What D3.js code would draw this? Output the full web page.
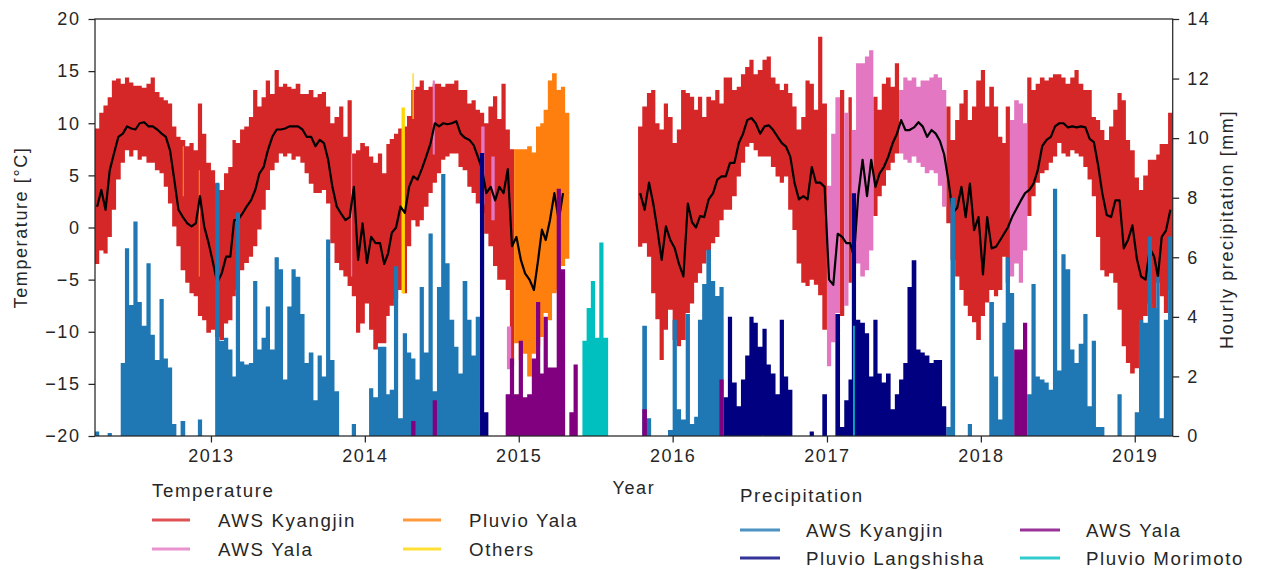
<!DOCTYPE html>
<html><head><meta charset="utf-8">
<script src="https://cdn.jsdelivr.net/npm/d3@7"></script>
<style>
body{margin:0;background:#fff;}
svg text{font-family:"Liberation Sans",Arial,sans-serif;fill:#262626;font-size:18px;letter-spacing:1.6px;}
svg text.leg{font-size:18.7px;}
</style></head><body>
<svg id="chart" width="1264" height="570"></svg>
<script>
// ---------- DATA (dekads = 1st, 11th, 21st of each month, April 2012 .. March 2019) ----------
const seasonLabels = ["2012-13","2013-14","2014-15","2015-16","2016-17","2017-18","2018-19"];

// temperature band maximum per dekad [°C]
const tempMax = [
  9.5,11.0,11.7, 12.5,14.1,14.3, 13.8,14.4,13.9, 13.6,13.6,13.4, 13.8,14.4,13.0, 12.5,12.2,11.9, 9.7,8.7,8.4, 7.8,8.1,7.4, 11.9,9.0,6.2, 5.5,4.2,3.6, 5.2,5.8,8.4, 8.1,9.4,9.7,
  10.6,13.2,11.6, 12.5,14.1,12.8, 15.1,13.5,13.8, 13.5,13.3,13.8, 12.8,12.8,13.2, 12.5,12.8,13.0, 11.6,10.0,10.6, 11.6,8.7,12.2, 7.1,7.4,8.1, 7.8,6.8,6.2, 7.1,5.2,8.0, 8.5,9.0,9.5,
  9.7,10.7,13.2, 13.5,14.1,13.2, 13.5,13.8,13.8, 13.5,13.8,13.8, 14.1,13.2,13.2, 11.9,12.2,11.3, 11.0,10.0,11.6, 12.6,10.4,13.8, 9.4,7.5,7.5, 7.5,7.5,7.8, 7.2,9.7,10.0, 11.3,14.1,14.8,
  13.2,13.5,11.0, null,null,null, null,null,null, null,null,null, null,null,null, null,null,null, null,9.7,11.6, 12.9,13.2,10.0, 9.4,11.9,10.6, 8.1,9.4,13.2, 12.9,12.55,11.3, 12.55,10.6,12.55,
  12.2,13.2,11.9, 14.4,14.4,13.2, 13.5,14.7,15.4, 16.1,14.7,15.1, 16.1,16.4,14.4, 13.8,13.2,13.8, 12.9,11.6,9.4, 10.6,14.1,13.8, 11.3,18.3,11.9, 4.0,9.0,12.5, 13.2,11.0,12.5, 9.35,15.75,15.75,
  16.4,17.0,12.55, 11.3,13.8,14.4, 13.5,15.75,13.2, 14.4,14.1,14.4, 13.5,14.1,14.1, 14.4,14.7,14.4, 13.2,11.6,8.4, 10.3,11.9,13.2, 10.3,11.6,14.1, 15.1,11.6,13.5, 11.6,8.7,8.1, 11.6,10.3,12.2,
  11.9,10.0,14.4, 13.2,13.8,14.4, 14.1,14.4,14.7, 14.7,14.4,13.8, 14.4,15.1,13.8, 13.2,13.2,10.6, 10.3,9.35,8.4, 9.7,11.3,12.9, 12.2,8.4,7.4, 4.8,3.6,5.0, 6.5,6.5,7.0, 8.0,8.0,11.0
];
// temperature band minimum per dekad [°C]
const tempMin = [
  -3.5,-2.2,-2.5, -0.9,1.7,4.6, 6.2,7.4,6.8, 7.4,6.5,6.8, 6.2,6.2,5.5, 5.2,3.9,2.3, 0.1,-1.8,-4.1, -5.3,-6.3,-6.6, -8.5,-8.9,-10.1, -9.8,-10.5,-10.8, -9.2,-8.9,-6.6, -6.0,-4.1,-3.4,
  -2.8,-1.8,-0.2, 1.7,3.6,5.5, 6.2,7.1,6.8, 7.1,6.5,6.8, 6.2,5.2,4.2, 3.3,3.3,3.6, 2.3,-1.5,-3.4, -4.1,-4.7,-5.6, -6.6,-10.1,-9.2, -7.3,-9.8,-11.7, -11.1,-11.1,-8.5, -7.5,-6.8,-6.0,
  -6.3,-1.8,0.7, 0.1,0.7,2.0, 3.3,4.3,5.2, 6.5,6.8,7.1, 7.1,5.8,5.5, 3.9,3.3,2.3, 1.4,-0.6,-1.8, -3.7,-5.0,-5.0, -6.0,-13.3,-11.1, -12.7,-12.1,-14.3, -12.1,-11.4,-10.5, -8.2,-8.9,-6.3,
  -6.0,-3.7,-3.0, null,null,null, null,null,null, null,null,null, null,null,null, null,null,null, null,-1.85,-1.5, -2.8,-6.3,-8.8, -12.7,-9.8,-7.9, -10.8,-11.4,-10.8, -8.2,-7.3,-5.3, -4.4,-3.45,-2.2,
  -1.5,-0.9,0.7, 1.7,1.7,3.0, 4.9,6.2,7.75, 8.1,7.4,6.8, 6.8,6.8,5.8, 4.9,4.3,4.9, 1.7,-0.25,-3.45, -5.3,-5.6,-5.0, -5.5,-6.5,-9.8, -13.3,-11.0,-8.2, -8.5,-7.5,-5.3, -4.1,-3.45,-4.7,
  -4.1,-2.2,1.1, 3.0,4.0,5.5, 6.2,7.1,7.1, 6.5,6.2,6.8, 6.2,5.8,5.2, 5.5,5.2,4.0, 2.0,0.4,-3.1, -4.7,-6.0,-7.5, -8.5,-9.1,-10.8, -8.5,-7.2,-6.0, -6.6,-6.0,-2.8, -5.3,-4.7,-3.45,
  -5.3,-2.2,1.1, 3.0,4.3,5.2, 5.5,6.2,6.8, 8.1,7.1,6.8, 7.4,7.1,6.8, 5.8,4.6,3.0, -0.9,-4.1,-4.7, -4.4,-5.3,-7.9, -11.4,-13.0,-14.0, -13.5,-10.5,-8.5, -7.3,-7.9,-5.3, -6.6,-8.2,-6.0
];
// smoothed mean temperature per dekad [°C]
const tempMean = [
  2.0,3.6,1.7, 5.5,7.1,8.7, 9.0,9.7,9.5, 9.4,10.0,10.1, 9.7,9.7,9.4, 9.0,8.7,7.4, 4.6,1.7,1.0, 0.4,0.1,0.4, 3.0,0.1,-1.5, -3.4,-5.3,-4.4, -2.8,-2.8,0.7, 0.7,1.3,2.0,
  2.6,3.6,5.2, 5.8,7.4,8.7, 9.4,9.4,9.5, 9.7,9.7,9.7, 9.4,8.7,8.7, 7.8,8.4,8.1, 6.5,3.9,2.0, 1.3,0.7,1.0, 3.9,-3.1,0.4, -3.4,-0.9,-1.5, -1.5,-3.5,-2.5, -0.5,0.0,2.0,
  1.4,3.9,4.9, 4.6,5.6,6.8, 8.1,10.0,9.7, 10.0,9.9,10.0, 10.2,9.0,8.6, 8.4,7.9,6.8, 5.6,3.3,3.9, 2.6,3.9,3.3, 5.6,-1.8,-0.9, -3.1,-4.4,-5.0, -6.0,-3.1,-0.2, -1.2,0.7,3.3,
  0.7,3.3,null, null,null,null, null,null,null, null,null,null, null,null,null, null,null,null, null,3.3,1.7, 4.3,2.3,-0.25, -3.1,0.1,-1.2, -2.0,-3.5,-4.7, 2.3,0.5,0.0, 1.1,1.0,2.7,
  3.3,4.6,4.9, 4.9,6.2,6.2, 8.1,9.0,10.3, 10.5,10.0,9.0, 9.7,9.8,9.35, 8.7,8.1,7.75, 6.8,4.3,2.7, 3.0,2.7,5.8, 4.3,4.3,3.9, -5.0,-5.5,-0.6, -0.9,-1.5,-1.5, -2.8,3.0,6.5,
  3.0,6.5,3.9, 5.2,5.8,6.8, 8.1,9.0,10.3, 9.35,9.35,9.6, 10.1,9.7,8.7, 9.35,9.0,8.3, 7.0,4.5,1.4, 1.9,3.9,1.0, 4.2,-0.25,1.0, -4.5,1.0,-2.0, -1.85,-1.2,-0.6, 0.0,1.0,1.8,
  2.6,3.3,3.6, 4.2,5.5,7.8, 8.4,8.7,9.7, 10.0,10.0,9.6, 9.7,9.6,9.7, 9.6,8.5,8.2, 6.0,3.3,1.2, 1.0,2.6,2.6, -2.0,-1.2,0.2, -3.0,-4.7,-5.0, -2.0,-2.8,-4.7, -0.9,-0.3,1.7
];
// station of the temperature record per dekad: K AWS Kyangjin, Y AWS Yala, P Pluvio Yala, O Others, - none
const tempSource = [
  "KKK KKK KKK KKK KKK KKK KKK KKK KKK KKK KKK KKK",
  "KKK KKK KKK KKK KKK KKK KKK KKK KKK KKK KKK KKK",
  "KKK KKK KKK KKK KKK KKK KKK KKK KKP PPP PPP PPP",
  "PPP --- --- --- --- --- -KK KKK KKK KKK KKK KKK",
  "KKK KKK KKK KKK KKK KKK KKK KKK KKK YYY KYK YYY",
  "YYK KKK KKY YYY YYY YYY YKK KKK KKK KKK KKK KYY",
  "YYK KKK KKK KKK KKK KKK KKK KKK KKK KKK KKK KKK"
];
// short records of other stations drawn over the band: [from, to, min, max, station]
const tempExtra = [
  ["2012-10-26","2012-10-29", 3.0, 7.8, "P"],
  ["2012-12-03","2012-12-06", -4.7, 5.5, "P"],
  ["2013-11-29","2013-12-02", -4.7, 7.1, "Y"],
  ["2014-03-29","2014-04-06", -6.3, 11.5, "O"],
  ["2014-04-24","2014-04-27", 10.4, 14.8, "O"],
  ["2014-06-11","2014-06-16", 7.0, 14.1, "Y"],
  ["2014-10-04","2014-10-12", 2.2, 9.7, "Y"],
  ["2014-10-28","2014-11-05", 0.7, 6.8, "Y"],
  ["2014-12-04","2014-12-14", -13.6, -9.5, "Y"]
];

// maximum hourly precipitation per dekad [mm]
const precipMax = [
  0.15,0,0, 0.1,0,0, 2.45,6.3,4.4, 7.2,4.5,3.7, 5.8,3.4,2.55, 4.6,2.6,2.3, 0.4,0,0.5, 0,0,0, 0.55,0,0, 0,8.5,3.2, 3.3,2.9,2.0, 7.5,2.5,2.4,
  2.45,5.2,2.9, 3.3,4.35,2.9, 6.0,5.6,1.9, 4.35,5.6,5.35, 4.1,2.45,2.8, 1.2,2.7,2.0, 6.6,2.55,1.5, 0,0,0, 0.4,0,0, 0,1.6,1.3, 3.0,3.0,1.4, 1.55,5.7,0.6,
  3.45,2.8,2.6, 1.9,5.0,2.8, 6.8,1.5,5.0, 8.8,5.8,3.9, 3.0,2.1,5.2, 3.9,2.7,4.0, 9.5,0.8,0, 0,0,0, 1.4,2.6,1.4, 3.2,1.3,1.4, 2.6,4.5,2.1, 4.0,2.3,2.3,
  8.3,5.6,0, 0.8,2.4,0, 3.2,4.3,5.2, 3.3,6.5,3.3, 0,0,0, 0,0,0, 0,0,3.7, 0.6,0,0, 0,0,0.2, 3.9,0.9,0.55, 4.1,0.4,0.65, 3.9,5.1,6.25,
  5.2,4.7,5.0, 1.3,4.0,1.8, 1.0,1.9,2.7, 4.0,3.8,3.0, 3.6,2.4,2.1, 1.4,3.9,2.0, 1.55,0,0, 0,0,0.15, 0,0,1.4, 0,0,4.1, 0.3,1.2,1.9, 8.15,3.9,3.8,
  3.45,2.0,3.9, 2.1,1.8,2.1, 0.9,1.4,1.9, 2.45,5.0,5.9, 2.9,2.8,2.7, 2.45,2.55,2.55, 1.0,0.3,8.0, 0,0,0, 0.4,0,0, 0,0,4.5, 2.0,0.55,3.8, 6.0,4.8,2.9,
  2.9,3.8,1.4, 5.1,2.0,1.9, 1.8,1.55,8.3, 2.2,6.1,5.6, 2.9,2.45,3.1, 4.1,1.0,3.2, 0.3,0.3,0, 0,0,1.4, 0,0,0, 0.8,3.9,3.8, 6.7,4.3,5.35, 0.6,3.9,6.7
];
// station of the precipitation record: K AWS Kyangjin, L Pluvio Langshisha, Y AWS Yala, M Pluvio Morimoto
const precipSource = [
  "KKK KKK KKK KKK KKK KKK KKK KKK KKK KKK KKK KKK",
  "KKK KKK KKK KKK KKK KKK KKK KKK KKK KKK KKK KKK",
  "KKK KKK KKK KKK KKK KKK LL- --- YYY YYY YYY YYY",
  "YY- YY- MMM MMM --- --- --K KKK KKK KKK KKK KKK",
  "KKK LLL LLL LLL LLL LLL LLL LLL LLL LLL LLL LLL",
  "LLL LLL LLL LLL LLL LLL LKK KKK KKK KKK KKK KKY",
  "YYK KKK KKK KKK KKK KKK KKK KKK KKK KKK KKK KKK"
];
// second station drawn in front: [from, to, value, station]
const precipExtra = [
  ["2014-04-21","2014-05-01", 0.5, "Y"],
  ["2014-06-11","2014-06-21", 1.2, "Y"],
  ["2015-10-21","2015-11-01", 0.9, "Y"],
  ["2016-04-21","2016-05-01", 1.9, "Y"],
  ["2017-03-04","2017-03-08", 3.7, "M"]
];

const yearTicks = [2013, 2014, 2015, 2016, 2017, 2018, 2019];
const tempTicks = [-20, -15, -10, -5, 0, 5, 10, 15, 20];
const precipTicks = [0, 2, 4, 6, 8, 10, 12, 14];

const tempLegend = [["AWS Kyangjin","K"],["AWS Yala","Y"],["Pluvio Yala","P"],["Others","O"]];
const precipLegend = [["AWS Kyangjin","K"],["Pluvio Langshisha","L"],["AWS Yala","Y"],["Pluvio Morimoto","M"]];

// ---------- STYLE ----------
const tempColor = {K:"#d62728", Y:"#e377c2", P:"#ff7f0e", O:"#ffd700"};
const precipColor = {K:"#1f77b4", L:"#000080", Y:"#800080", M:"#00bfbf"};
const ink = "#262626";
const L = 95, R = 1172.7, T = 19, B = 436;

// ---------- CHART ----------
const svg = d3.select("#chart");
const parse = d3.timeParse("%Y-%m-%d");
const x = d3.scaleTime().domain([new Date(2012,3,1), new Date(2019,3,1)]).range([L, R]);
const yT = d3.scaleLinear().domain([-20, 20]).range([B, T]);
const yP = d3.scaleLinear().domain([0, 14]).range([B, T]);

const dekStart = i => new Date(2012, 3 + Math.floor(i/3), [1,11,21][i%3]);
const tSrc = tempSource.join("").replace(/ /g, "").split("");
const pSrc = precipSource.join("").replace(/ /g, "").split("");

const dekads = tempMax.map((v, i) => ({
  i, start: dekStart(i), end: dekStart(i+1),
  max: v, min: tempMin[i], mean: tempMean[i], ts: tSrc[i],
  p: precipMax[i], ps: pSrc[i]
}));

svg.append("defs").append("clipPath").attr("id","plot")
  .append("rect").attr("x", L).attr("y", T).attr("width", R-L).attr("height", B-T);

const g = svg.append("g").attr("clip-path","url(#plot)");

// one path per colour (no seams between neighbouring blocks)
function blocks(items, x0, x1, y0, y1){
  return items.map(d => {
    const a = x(x0(d)), b = x(x1(d)), t = y0(d), u = y1(d);
    return `M${a},${t}H${b}V${u}H${a}Z`;
  }).join("");
}
function drawBlocks(layer, items, keyOf, colors, x0, x1, y0, y1){
  const groups = d3.group(items, keyOf);
  Object.keys(colors).forEach(k => {
    const list = groups.get(k);
    if (!list) return;
    layer.append("path").attr("fill", colors[k]).attr("d", blocks(list, x0, x1, y0, y1));
  });
}

// temperature band
const bandLayer = g.append("g");
drawBlocks(bandLayer, dekads.filter(d => d.max != null && d.ts !== "-"), d => d.ts, tempColor,
  d => d.start, d => d.end, d => yT(d.max), d => yT(d.min));
drawBlocks(bandLayer, tempExtra, d => d[4], tempColor,
  d => parse(d[0]), d => parse(d[1]), d => yT(d[3]), d => yT(d[2]));

// mean temperature line
const mid = d => new Date((d.start.getTime() + d.end.getTime())/2);
g.append("path")
  .datum(dekads)
  .attr("fill","none").attr("stroke","#000").attr("stroke-width",2.2)
  .attr("stroke-linejoin","round")
  .attr("d", d3.line().defined(d => d.mean != null).x(d => x(mid(d))).y(d => yT(d.mean)));

// precipitation bars
const barLayer = g.append("g");
drawBlocks(barLayer, dekads.filter(d => d.p > 0 && d.ps !== "-"), d => d.ps, precipColor,
  d => d.start, d => d.end, d => yP(d.p), d => yP(0));
drawBlocks(barLayer, precipExtra, d => d[3], precipColor,
  d => parse(d[0]), d => parse(d[1]), d => yP(d[2]), d => yP(0));

// frame
svg.append("rect").attr("x", L).attr("y", T).attr("width", R-L).attr("height", B-T)
  .attr("fill","none").attr("stroke", ink).attr("stroke-width", 1.25);

// axes
function styleAxis(sel){
  sel.select(".domain").remove();
  sel.selectAll(".tick line").attr("stroke", ink).attr("stroke-width", 1.25);
  sel.selectAll(".tick text").attr("fill", ink).style("font-size","18px");
}
svg.append("g").attr("transform",`translate(${L},0)`)
  .call(d3.axisLeft(yT).tickValues(tempTicks).tickSize(6.5).tickPadding(8).tickFormat(d3.format("")))
  .call(styleAxis);
svg.append("g").attr("transform",`translate(${R},0)`)
  .call(d3.axisRight(yP).tickValues(precipTicks).tickSize(6.5).tickPadding(8).tickFormat(d3.format("")))
  .call(styleAxis);
svg.append("g").attr("transform",`translate(0,${B})`)
  .call(d3.axisBottom(x).tickValues(yearTicks.map(y => new Date(y,0,1))).tickSize(6.5).tickPadding(7).tickFormat(d3.timeFormat("%Y")))
  .call(styleAxis);

// axis titles
svg.append("text").attr("transform",`translate(27,${(T+B)/2}) rotate(-90)`)
  .attr("text-anchor","middle").text("Temperature [°C]");
svg.append("text").attr("transform",`translate(1233,${(T+B)/2+2}) rotate(-90)`)
  .attr("text-anchor","middle").text("Hourly precipitation [mm]");
svg.append("text").attr("x", (L+R)/2).attr("y", 494).attr("text-anchor","middle").text("Year");

// legends
function legend(title, items, colors, ox, oy, rowH, colW, lineLen, textDx, titleDy){
  const lg = svg.append("g").attr("transform",`translate(${ox},${oy})`);
  lg.append("text").attr("class","leg").attr("x", 0).attr("y", titleDy).text(title);
  items.forEach((it, k) => {
    const col = Math.floor(k/2), row = k%2;
    const gx = col*colW, gy = row*rowH;
    lg.append("line").attr("x1", gx).attr("x2", gx+lineLen).attr("y1", gy).attr("y2", gy)
      .attr("stroke", colors[it[1]]).attr("stroke-width", 3).attr("stroke-opacity", 0.8);
    lg.append("text").attr("class","leg").attr("x", gx+textDx).attr("y", gy+6.5).text(it[0]);
  });
}
legend("Temperature", tempLegend, tempColor, 152, 520, 29, 251, 38, 66, -23);
legend("Precipitation", precipLegend, precipColor, 740, 530, 28, 280, 40, 66, -28);
</script></body></html>
